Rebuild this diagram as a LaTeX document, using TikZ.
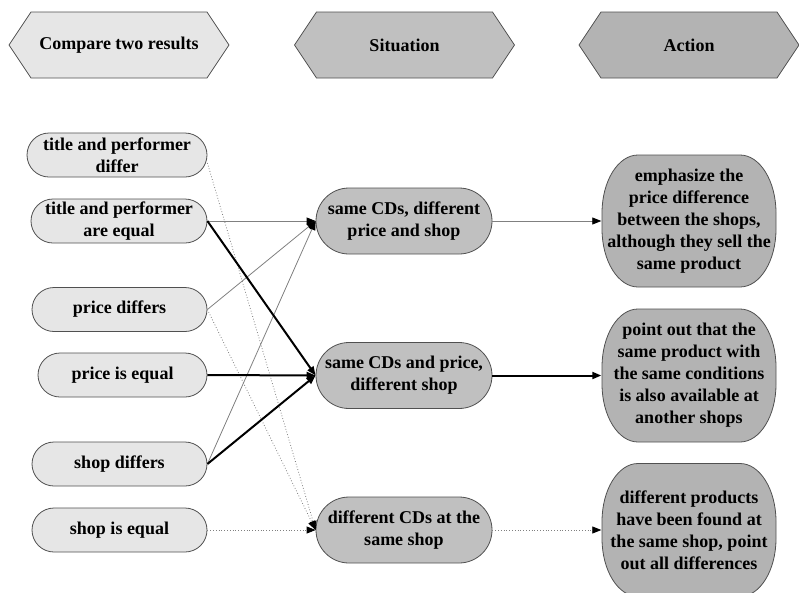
\documentclass[tikz,border=0pt]{standalone}
\usepackage{fontspec}
\setmainfont{Liberation Serif}
\usetikzlibrary{arrows.meta}
\definecolor{lightfill}{HTML}{E6E6E6}
\definecolor{midfill}{HTML}{C0C0C0}
\definecolor{darkfill}{HTML}{B3B3B3}
\definecolor{edgegray}{HTML}{505050}
\definecolor{linegray}{HTML}{808080}
\newcommand\hexbox[3]{% cx, cy, fill
  \draw[draw=edgegray, line width=0.8pt, fill=#3]
    (#1-110,#2) -- (#1-88,#2+33) -- (#1+88,#2+33) -- (#1+110,#2)
    -- (#1+88,#2-33) -- (#1-88,#2-33) -- cycle;}
\newcommand\ovalbox[4]{% cx, cy, w, h
  \draw[draw=edgegray, line width=0.8pt, fill=darkfill]
    (#1-#3/2+36,#2+#4/2) -- (#1+#3/2-36,#2+#4/2)
    arc[start angle=90, end angle=0, x radius=36, y radius=58]
    -- (#1+#3/2,#2-#4/2+58)
    arc[start angle=0, end angle=-90, x radius=36, y radius=58]
    -- (#1-#3/2+36,#2-#4/2)
    arc[start angle=270, end angle=180, x radius=36, y radius=58]
    -- (#1-#3/2,#2+#4/2-58)
    arc[start angle=180, end angle=90, x radius=36, y radius=58] -- cycle;}
\tikzset{
  txt/.style={font=\bfseries\fontsize{18}{22}\selectfont, align=center, inner sep=0pt},
  leftbox/.style={txt, draw=edgegray, line width=0.8pt, fill=lightfill,
    rounded corners=22pt, minimum height=44pt},
  midbox/.style={txt, draw=edgegray, line width=0.8pt, fill=midfill,
    rounded corners=33pt, minimum width=176pt, minimum height=66pt},
  rightbox/.style={txt, minimum width=175pt, minimum height=133pt},
  tip/.style={-{Triangle[length=9pt,width=7pt,color=black,fill=black]}},
  thinline/.style={tip, draw=linegray, line width=0.8pt},
  thickline/.style={tip, draw=black, line width=2pt},
  dotline/.style={tip, draw=linegray, line width=0.8pt, dotted}
}
\begin{document}
\begin{tikzpicture}[x=1pt,y=1pt]
\useasboundingbox (0,0) rectangle (799,-592);
% header
\hexbox{119}{-45}{lightfill}
\hexbox{404.5}{-45}{midfill}
\hexbox{689}{-45}{darkfill}
\node[txt] (h1) at (119,-45) {Compare two results};
\node[txt] (h2) at (404.5,-45) {Situation};
\node[txt] (h3) at (689,-45) {Action};
% left column
\node[leftbox, minimum width=180pt] (tpd) at (117,-155) {title and performer\\differ};
\node[leftbox, minimum width=176pt] (tpe) at (119,-221) {title and performer\\are equal};
\node[leftbox, minimum width=175pt] (pd) at (119.5,-309.5) {price differs};
\node[leftbox, minimum width=169pt] (pe) at (122.5,-375) {price is equal};
\node[leftbox, minimum width=175pt] (sd) at (119.5,-464) {shop differs};
\node[leftbox, minimum width=175pt] (se) at (119.5,-530) {shop is equal};
% middle column
\node[midbox] (m1) at (404,-221) {same CDs, different\\price and shop};
\node[midbox] (m2) at (404,-375.5) {same CDs and price,\\different shop};
\node[midbox] (m3) at (404,-530) {different CDs at the\\same shop};
% right column
\ovalbox{689}{-221}{174}{132}
\ovalbox{689}{-375.5}{174}{133}
\ovalbox{689}{-530}{174}{133}
\node[rightbox] (r1) at (689,-221) {emphasize the\\price difference\\between the shops,\\although they sell the\\same product};
\node[rightbox] (r2) at (689,-375.5) {point out that the\\same product with\\the same conditions\\is also available at\\another shops};
\node[rightbox] (r3) at (689,-530) {different products\\have been found at\\the same shop, point\\out all differences};
% connectors
\draw[dotline] ([yshift=-8pt]tpd.east) -- (m3.west);
\draw[dotline] (pd.east) -- (m3.west);
\draw[dotline] (se.east) -- (m3.west);
\draw[thinline] (tpe.east) -- (m1.west);
\draw[thinline] (pd.east) -- (m1.west);
\draw[thinline] (sd.east) -- (m1.west);
\draw[thickline] (tpe.east) -- (m2.west);
\draw[thickline] (pe.east) -- (m2.west);
\draw[thickline] (sd.east) -- (m2.west);
\draw[thinline] (m1.east) -- (r1.west);
\draw[thickline] (m2.east) -- (r2.west);
\draw[dotline] (m3.east) -- (r3.west);
\end{tikzpicture}
\end{document}
